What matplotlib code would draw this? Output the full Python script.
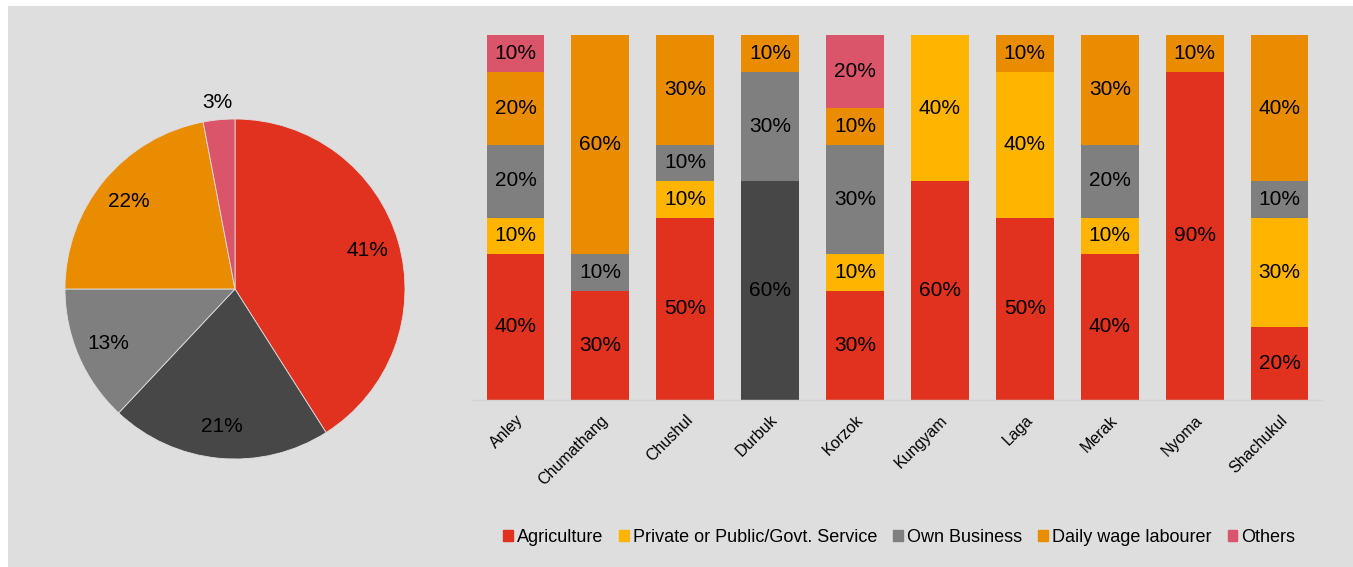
import numpy as np
import matplotlib
matplotlib.use("Agg")
import matplotlib.pyplot as plt
from matplotlib.patches import Rectangle

plt.rcParams["font.family"] = ["Liberation Sans", "DejaVu Sans"]

# Overall occupation split (pie)
pie_values = [41, 21, 13, 22, 3]
pie_colors = ["#E0321E", "#474747", "#7F7F7F", "#EA8C00", "#DA546A"]

# Occupation split per village (stacked bars)
villages = ["Anley", "Chumathang", "Chushul", "Durbuk", "Korzok",
            "Kungyam", "Laga", "Merak", "Nyoma", "Shachukul"]
categories = ["Agriculture", "Private or Public/Govt. Service",
              "Own Business", "Daily wage labourer", "Others"]
agriculture = [40, 30, 50, 60, 30, 60, 50, 40, 90, 20]
service = [10, 0, 10, 0, 10, 40, 40, 10, 0, 30]
own_business = [20, 10, 10, 30, 30, 0, 0, 20, 0, 10]
daily_wage = [20, 60, 30, 10, 10, 0, 10, 30, 10, 40]
others = [10, 0, 0, 0, 20, 0, 0, 0, 0, 0]
cat_colors = ["#E0321E", "#FFB400", "#7F7F7F", "#EA8C00", "#DA546A"]
# Durbuk's bottom segment is shaded dark grey
special_color = {("Agriculture", "Durbuk"): "#474747"}

BG = "#DEDEDE"
W, H = 1353, 567

fig = plt.figure(figsize=(W / 100, H / 100), dpi=100)
fig.patch.set_facecolor("white")
fig.patches.append(Rectangle((8 / W, 0), 1 - 8 / W, 1 - 6 / H,
                             transform=fig.transFigure, facecolor=BG,
                             edgecolor="none", zorder=-10))

# --- pie ---
cx, cy, r = 235, H - 289, 170
ax1 = fig.add_axes([(cx - r) / W, (cy - r) / H, 2 * r / W, 2 * r / H])
wedges, texts, autotexts = ax1.pie(
    pie_values, colors=pie_colors, startangle=90, counterclock=False,
    autopct="%d%%", pctdistance=0.81, radius=1,
    wedgeprops=dict(linewidth=0.6, edgecolor=BG),
    textprops=dict(fontsize=15, color="black"))
for w, t, v in zip(wedges, autotexts, pie_values):
    if v < 5:
        ang = np.deg2rad((w.theta1 + w.theta2) / 2)
        t.set_position((1.1 * np.cos(ang), 1.1 * np.sin(ang)))
ax1.set_xlim(-1, 1)
ax1.set_ylim(-1, 1)
ax1.axis("off")

# --- stacked bars ---
x0, x1, ytop, ybot = 473, 1322, 35, 400
ax2 = fig.add_axes([x0 / W, (H - ybot) / H, (x1 - x0) / W, (ybot - ytop) / H])
ax2.set_facecolor("none")
series = [agriculture, service, own_business, daily_wage, others]
x = np.arange(len(villages))
bottom = np.zeros(len(villages))
for name, vals, col in zip(categories, series, cat_colors):
    vals = np.array(vals, dtype=float)
    cols = [special_color.get((name, v), col) for v in villages]
    ax2.bar(x, vals, width=0.68, bottom=bottom, color=cols, label=name,
            edgecolor="none")
    for xi, b, v in zip(x, bottom, vals):
        if v > 0:
            ax2.text(xi, b + v / 2, f"{int(v)}%", ha="center", va="center",
                     fontsize=15, color="black")
    bottom += vals

ax2.set_xlim(-0.5, len(villages) - 0.5)
ax2.set_ylim(0, 100)
ax2.set_yticks([])
ax2.set_xticks(x)
ax2.set_xticklabels(villages, rotation=45, ha="right", rotation_mode="anchor",
                    fontsize=11.5)
ax2.tick_params(axis="x", length=0, pad=9)
for s in ["top", "right", "left"]:
    ax2.spines[s].set_visible(False)
ax2.spines["bottom"].set_color("#D2D2D2")
ax2.spines["bottom"].set_linewidth(1)

handles = [Rectangle((0, 0), 1, 1, color=c) for c in cat_colors]
fig.legend(handles, categories, loc="center", bbox_to_anchor=(899 / W, 1 - 537 / H),
           ncol=5, frameon=False, fontsize=13, handlelength=0.55,
           handleheight=0.55, handletextpad=0.2, columnspacing=0.9)

fig.savefig("out.png", dpi=100, facecolor=fig.get_facecolor())
